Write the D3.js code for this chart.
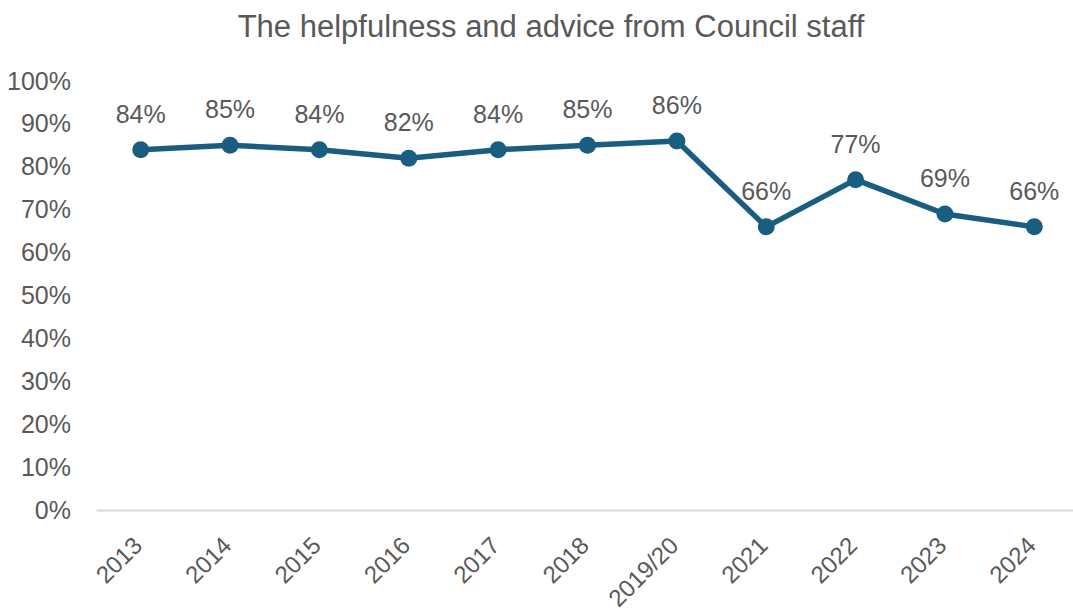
<!DOCTYPE html>
<html>
<head>
<meta charset="utf-8">
<script src="https://cdn.jsdelivr.net/npm/d3@7"></script>
<style>
  html, body { margin: 0; padding: 0; background: #fff; }
  svg { display: block; }
  text { font-family: "Liberation Sans", Arial, sans-serif; fill: #595959; }
</style>
</head>
<body>
<svg id="chart" width="1073" height="612"></svg>
<script>
// Survey results: satisfaction with the helpfulness and advice from Council staff
const years = ["2013", "2014", "2015", "2016", "2017", "2018", "2019/20", "2021", "2022", "2023", "2024"];
const values = [84, 85, 84, 82, 84, 85, 86, 66, 77, 69, 66];
const yTicks = [0, 10, 20, 30, 40, 50, 60, 70, 80, 90, 100];
const title = "The helpfulness and advice from Council staff";

const svg = d3.select("#chart");
const margin = { left: 96, right: 1079, top: 81, bottom: 510 };

const x = d3.scaleBand().domain(years).range([margin.left, margin.right]);
const y = d3.scaleLinear().domain([0, 100]).range([margin.bottom, margin.top]);
const cx = d => x(d) + x.bandwidth() / 2;

// Title
svg.append("text")
  .attr("x", 551).attr("y", 37)
  .attr("text-anchor", "middle")
  .style("font-size", "31px")
  .text(title);

// Y axis labels
const yAxis = d3.axisLeft(y).tickValues(yTicks).tickFormat(d => d + "%").tickSize(0).tickPadding(25);
const gy = svg.append("g").attr("transform", `translate(${margin.left},0)`).call(yAxis);
gy.select(".domain").remove();
gy.selectAll("text").style("font-size", "25px").attr("fill", "#595959");

// X axis baseline and labels
const xAxis = d3.axisBottom(x).tickSize(0).tickPadding(0);
const gx = svg.append("g").attr("transform", `translate(0,${margin.bottom})`).call(xAxis);
gx.select(".domain").attr("stroke", "#d9d9d9").attr("stroke-width", 2);
gx.selectAll("text")
  .style("font-size", "24px")
  .attr("fill", "#595959")
  .attr("text-anchor", "end")
  .attr("dy", null)
  .attr("transform", "translate(3,37) rotate(-45)");

// Line
const line = d3.line().x((d, i) => cx(years[i])).y(d => y(d));
svg.append("path")
  .datum(values)
  .attr("d", line)
  .attr("fill", "none")
  .attr("stroke", "#195e80")
  .attr("stroke-width", 5.5)
  .attr("stroke-linejoin", "round");

// Markers
svg.selectAll("circle.pt")
  .data(values)
  .join("circle")
  .attr("class", "pt")
  .attr("cx", (d, i) => cx(years[i]))
  .attr("cy", d => y(d))
  .attr("r", 8.5)
  .attr("fill", "#195e80");

// Data labels
svg.selectAll("text.lbl")
  .data(values)
  .join("text")
  .attr("class", "lbl")
  .attr("x", (d, i) => cx(years[i]))
  .attr("y", d => y(d) - 27)
  .attr("text-anchor", "middle")
  .style("font-size", "25px")
  .text(d => d + "%");
</script>
</body>
</html>
